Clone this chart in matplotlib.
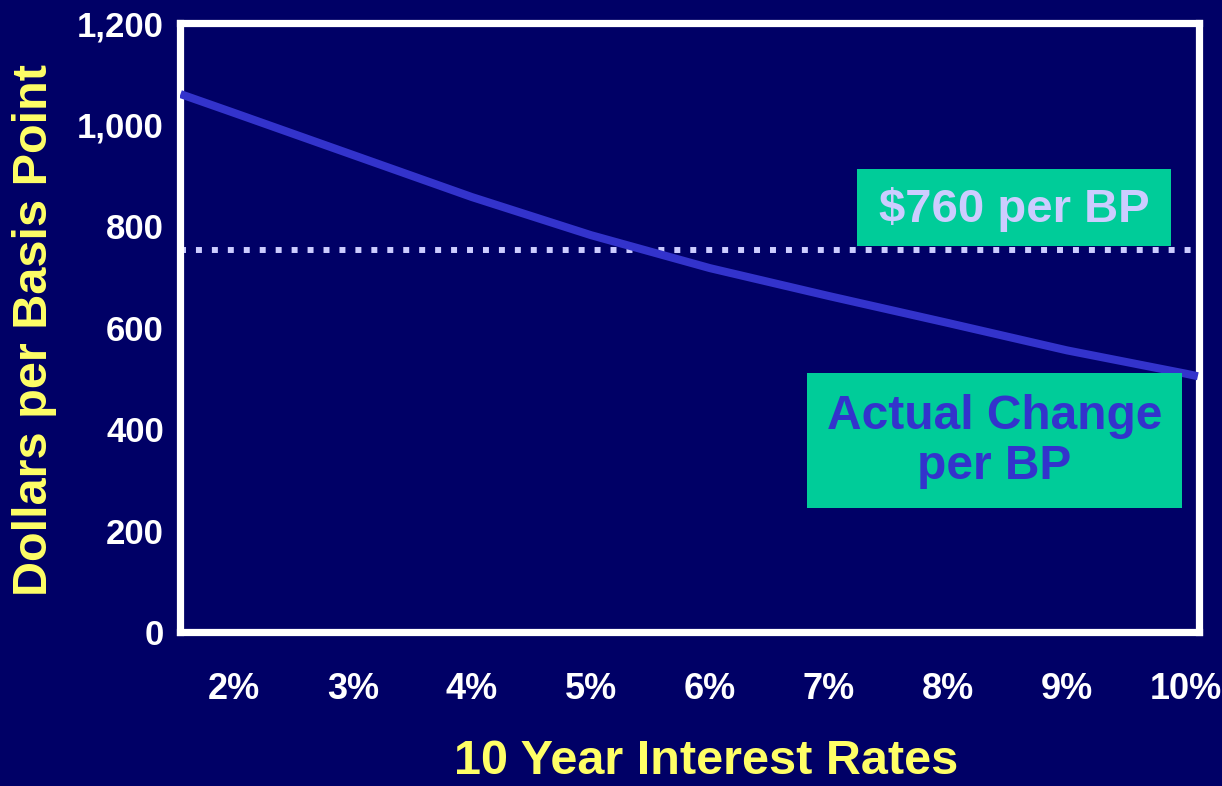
import matplotlib
matplotlib.use("Agg")
import matplotlib.pyplot as plt
from matplotlib.patches import Rectangle

# values
rates = [1.55, 2, 3, 4, 5, 6, 6.4, 7, 8, 9, 10, 10.1]
dollars = [1060, 1023, 940, 857, 782, 717, 695, 662, 609, 555, 509, 504]
flat_value = 752
x_ticks = [2, 3, 4, 5, 6, 7, 8, 9, 10]
x_labels = ["2%", "3%", "4%", "5%", "6%", "7%", "8%", "9%", "10%"]
y_ticks = [0, 200, 400, 600, 800, 1000, 1200]
y_labels = ["0", "200", "400", "600", "800", "1,000", "1,200"]

navy = "#000066"
plt.rcParams["font.family"] = ["Liberation Sans", "DejaVu Sans"]
plt.rcParams["font.weight"] = "bold"

fig = plt.figure(figsize=(12.22, 7.86), dpi=100, facecolor=navy)
ax = fig.add_axes([0.1477, 0.1959, 0.8335, 0.7748])
ax.set_facecolor(navy)

ax.plot(rates, dollars, color="#3333CC", lw=5.8, solid_capstyle="butt", zorder=3)
ax.plot([rates[0], rates[-1]], [flat_value, flat_value], color="#CCCCFF", lw=4.3,
        linestyle=(0, (1, 1.67)), dash_capstyle="butt", zorder=2)

ax.set_xlim(1.55, 10.11)
ax.set_ylim(0, 1200)
ax.set_xticks(x_ticks)
ax.set_xticklabels(x_labels)
ax.set_yticks(y_ticks)
ax.set_yticklabels(y_labels)
ax.tick_params(length=0, colors="white")
ax.tick_params(axis="x", pad=29, labelsize=26)
ax.tick_params(axis="y", pad=12, labelsize=25)
for lab in ax.get_xticklabels() + ax.get_yticklabels():
    lab.set_fontweight("bold")

for s in ax.spines.values():
    s.set_color("white")
    s.set_linewidth(5.2)

ax.set_ylabel("Dollars per Basis Point", color="#FFFF66", fontsize=35, fontweight="bold")
ax.yaxis.set_label_coords(-0.143, 0.496)
ax.yaxis.label.set_va("center")
ax.set_xlabel("10 Year Interest Rates", color="#FFFF66", fontsize=35, fontweight="bold")
ax.xaxis.set_label_coords(0.516, -0.212)
ax.xaxis.label.set_va("center")

# labelled boxes
green = "#00CC99"
ax.add_patch(Rectangle((0.664, 0.634), 0.3085, 0.126, transform=ax.transAxes,
                       facecolor=green, edgecolor="none", zorder=4))
ax.text(0.8185, 0.694, "$760 per BP", transform=ax.transAxes, ha="center", va="center",
        color="#CCCCFF", fontsize=34, fontweight="bold", zorder=5)

ax.add_patch(Rectangle((0.615, 0.2036), 0.368, 0.2214, transform=ax.transAxes,
                       facecolor=green, edgecolor="none", zorder=4))
ax.text(0.799, 0.313, "Actual Change\nper BP", transform=ax.transAxes, ha="center",
        va="center", color="#3333CC", fontsize=34.5, fontweight="bold", linespacing=1.12,
        zorder=5)

fig.savefig("out.png", dpi=100, facecolor=navy)
